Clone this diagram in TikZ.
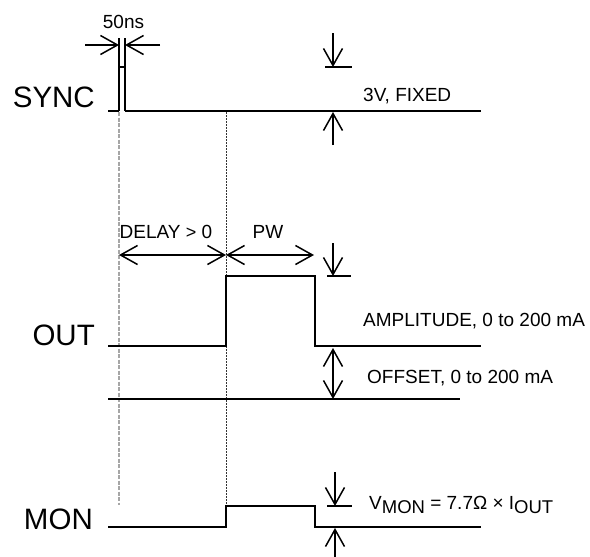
\documentclass[tikz,border=0pt]{standalone}
\usepackage{fontspec}
\setmainfont{Liberation Sans}
\usetikzlibrary{arrows.meta}
\begin{document}
\begin{tikzpicture}[x=1pt,y=-1pt,
  sig/.style={line width=2.6pt, line join=miter},
  thinsig/.style={line width=1.6pt},
  dim/.style={line width=1.5pt},
  barb/.tip={Straight Barb[length=17pt,width=19pt,line width=1.5pt]},
  onetip/.style={dim,-barb},
  twotip/.style={dim,barb-barb},
  bigtxt/.style={font=\fontsize{29.5}{30}\selectfont, anchor=base east, inner sep=0pt},
  smalltxt/.style={font=\fontsize{19}{20}\selectfont, inner sep=0pt},
  grayguide/.style={black!35, line width=1.1pt, dash pattern=on 4pt off 1.5pt},
  blackguide/.style={black!80, line width=0.9pt, dash pattern=on 2pt off 1pt}]
\useasboundingbox (0,0) rectangle (590,557);

% ---- coordinates ----
\coordinate (s0) at (108,111); \coordinate (s1) at (119,111);
\coordinate (s2) at (119,67);  \coordinate (s3) at (125,67);
\coordinate (s4) at (125,111); \coordinate (s5) at (481,111);
\coordinate (o0) at (108,346); \coordinate (o1) at (226,346);
\coordinate (o2) at (226,276); \coordinate (o3) at (315,276);
\coordinate (o4) at (315,346); \coordinate (o5) at (481,346);
\coordinate (f0) at (108,399); \coordinate (f1) at (460,399);
\coordinate (m0) at (108,527); \coordinate (m1) at (226,527);
\coordinate (m2) at (226,506); \coordinate (m3) at (315,506);
\coordinate (m4) at (315,527); \coordinate (m5) at (481,527);

% ---- guide lines ----
\coordinate (g1a) at (119,112); \coordinate (g1b) at (119,505);
\coordinate (g2a) at (226,112); \coordinate (g2b) at (226,506);
\draw[grayguide] (g1a) -- (g1b);
\draw[blackguide] (g2a) -- (g2b);

% ---- signals ----
\draw[sig] (s0) -- (s1);
\draw[thinsig] (s1) -- (s2) -- (s3) -- (s4);
\draw[sig] (s4) -- (s5);
\draw[sig] (o0) -- (o1) -- (o2) -- (o3) -- (o4) -- (o5);
\draw[thinsig] (f0) -- (f1);
\draw[sig] (m0) -- (m1) -- (m2) -- (m3) -- (m4) -- (m5);

% ---- labels ----
\node[bigtxt] (sync) at (95,107) {SYNC};
\node[bigtxt] (out) at (95,345) {OUT};
\node[bigtxt] (mon) at (93,529) {MON};

% ---- 50ns ----
\coordinate (b1a) at (119,38); \coordinate (b2a) at (125,38);
\draw[dim] (b1a) -- (s2);
\draw[dim] (b2a) -- (s3);
\coordinate (n1) at (85,45);  \coordinate (n1t) at (119,45);
\coordinate (n2) at (160,45); \coordinate (n2t) at (125,45);
\draw[onetip] (n1) -- (n1t);
\draw[onetip] (n2) -- (n2t);
\node[smalltxt, anchor=base] (ns) at (123.5,28) {50ns};

% ---- 3V fixed ----
\coordinate (v1) at (333,33);  \coordinate (v1t) at (333,67);
\coordinate (v1l) at (325,67); \coordinate (v1r) at (352,67);
\coordinate (v2) at (333,145); \coordinate (v2t) at (333,112);
\draw[onetip] (v1) -- (v1t);
\draw[dim] (v1l) -- (v1r);
\draw[onetip] (v2) -- (v2t);
\node[smalltxt, anchor=base west] (fixed) at (363,101) {3V, FIXED};

% ---- delay / pw ----
\coordinate (d0) at (119,255); \coordinate (d1) at (226,255);
\coordinate (d2) at (314,255);
\draw[twotip] (d0) -- (d1);
\draw[twotip] (d1) -- (d2);
\node[smalltxt, anchor=base] (delay) at (166,238) {DELAY {\fontsize{18}{20}\selectfont>} 0};
\node[smalltxt, anchor=base] (pw) at (268,238) {PW};

% ---- amplitude / offset ----
\coordinate (a1) at (333,243);  \coordinate (a1t) at (333,276);
\coordinate (a1l) at (327,276); \coordinate (a1r) at (351,276);
\draw[onetip] (a1) -- (a1t);
\draw[dim] (a1l) -- (a1r);
\node[smalltxt, anchor=base west] (amp) at (363,326) {AMPLITUDE, 0 to 200 mA};
\coordinate (of0) at (333,348); \coordinate (of1) at (333,399);
\draw[twotip] (of0) -- (of1);
\node[smalltxt, anchor=base west] (off) at (367,383) {OFFSET, 0 to 200 mA};

% ---- mon ----
\coordinate (mv1) at (335,472);  \coordinate (mv1t) at (335,506);
\coordinate (mv1l) at (327,506); \coordinate (mv1r) at (352,506);
\coordinate (mv2) at (335,557);  \coordinate (mv2t) at (335,528);
\draw[onetip] (mv1) -- (mv1t);
\draw[dim] (mv1l) -- (mv1r);
\draw[onetip] (mv2) -- (mv2t);
\node[smalltxt, anchor=base west] (vmon) at (369,509)
  {V\raisebox{-4pt}{\fontsize{18.5}{19}\selectfont MON} = 7.7Ω × I\raisebox{-4pt}{\fontsize{18.5}{19}\selectfont OUT}};
\end{tikzpicture}
\end{document}
